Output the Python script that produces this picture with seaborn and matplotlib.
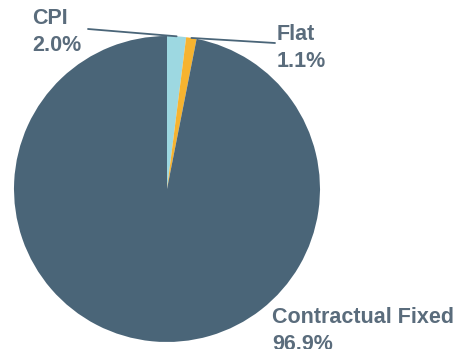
import numpy as np
import matplotlib
matplotlib.use("Agg")
import matplotlib.pyplot as plt
import seaborn as sns

# data
categories = ["CPI", "Flat", "Contractual Fixed"]
shares = [2.0, 1.1, 96.9]
pct_labels = ["2.0%", "1.1%", "96.9%"]

colors = ["#9dd8e1", "#f6b330", "#4a6578"]
text_color = "#5a6c7c"

sns.set_style("white")
plt.rcParams['font.family'] = ['Liberation Sans', 'DejaVu Sans']

fig = plt.figure(figsize=(4.54, 3.49), dpi=100)
ax = fig.add_axes([0, 0, 1, 1])

# pixel -> data helpers (centre at px (167,189), radius 153 px)
cx, cy, r = 167, 189, 153
def dx(px):
    return (px - cx) / r
def dy(py):
    return (cy - py) / r

wedges, _ = ax.pie(shares, colors=colors, startangle=90, counterclock=False,
                   radius=1.0, wedgeprops=dict(linewidth=0))

ax.set_xlim(dx(0), dx(454))
ax.set_ylim(dy(349), dy(0))
ax.set_aspect('equal')
ax.axis('off')

# label positions (pixels) and leader line ends
text_pos = [(32, 8), (277, 24), (272, 307)]
line_end = [(88, 29), (275, 43), None]

for w, cat, pct, tp, le in zip(wedges, categories, pct_labels, text_pos, line_end):
    ax.text(dx(tp[0]), dy(tp[1]), f"{cat}\n{pct}", ha='left', va='top',
            fontsize=15.5, fontweight='bold', color=text_color, linespacing=1.38)
    if le is not None:
        mid = np.deg2rad((w.theta1 + w.theta2) / 2)
        ax.plot([np.cos(mid), dx(le[0])], [np.sin(mid), dy(le[1])],
                color="#4a6578", linewidth=1.3)

fig.savefig("out.png", dpi=100)
